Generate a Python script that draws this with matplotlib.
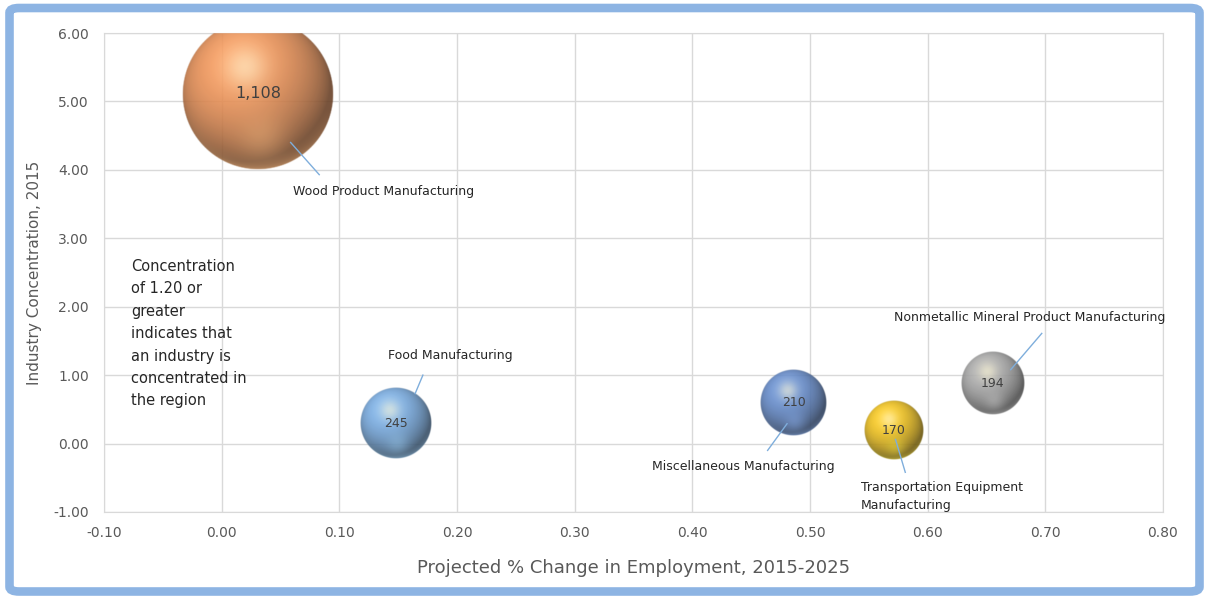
import numpy as np
import matplotlib
matplotlib.use("Agg")
import matplotlib.pyplot as plt
from matplotlib.patches import FancyBboxPatch

# industry bubbles
industries = ["Wood Product Manufacturing", "Food Manufacturing",
              "Miscellaneous Manufacturing", "Transportation Equipment\nManufacturing",
              "Nonmetallic Mineral Product Manufacturing"]
growth = [0.031, 0.148, 0.486, 0.571, 0.655]
concentration = [5.11, 0.30, 0.60, 0.19, 0.88]
employment = [1108, 245, 210, 170, 194]
value_labels = ["1,108", "245", "210", "170", "194"]

x_ticks = [-0.10, 0.00, 0.10, 0.20, 0.30, 0.40, 0.50, 0.60, 0.70, 0.80]
y_ticks = [-1.0, 0.0, 1.0, 2.0, 3.0, 4.0, 5.0, 6.0]

colors = [(0.92, 0.57, 0.34), (0.47, 0.67, 0.88), (0.40, 0.55, 0.80),
          (0.94, 0.76, 0.12), (0.66, 0.66, 0.66)]
# label text anchor (left, center) and leader line ends
label_pos = [(0.061, 3.68), (0.141, 1.28), (0.366, -0.34), (0.543, -0.77), (0.571, 1.84)]
leaders = [((0.0586, 4.40), (0.0829, 3.93)),
           ((0.1644, 0.73), (0.171, 1.00)),
           ((0.4805, 0.29), (0.464, -0.10)),
           ((0.5727, 0.06), (0.581, -0.42)),
           ((0.6706, 1.08), (0.697, 1.61))]

GRAY = "#595959"
plt.rcParams["font.family"] = ["DejaVu Sans"]


def sphere(color, r_px, n=220):
    t = np.linspace(-1, 1, n)
    u, v = np.meshgrid(t, -t)
    d2 = u ** 2 + v ** 2
    d = np.sqrt(d2)
    z = np.sqrt(np.clip(1 - d2, 0, 1))
    L = np.array([-0.3, 0.45, 0.84])
    L = L / np.linalg.norm(L)
    diff = np.clip(u * L[0] + v * L[1] + z * L[2], 0, 1)
    c = np.array(color)
    rgb = c[None, None, :] * (0.45 + 0.62 * diff[..., None])
    # bottom reflection and rim light
    refl = 0.30 * np.exp(-((u - 0.05) ** 2 + (v + 0.58) ** 2) / (2 * 0.22 ** 2))
    rim = 0.55 * np.clip(d2, 0, 1) ** 6 * np.clip(-v - 0.2, 0, 1)
    light = np.clip(c * 1.15 + 0.08, 0, 1)
    w = np.clip(refl + rim, 0, 1)[..., None]
    rgb = rgb * (1 - w) + light[None, None, :] * w
    # soft specular highlight
    spec = 0.55 * np.exp(-((u + 0.17) ** 2 + (v - 0.36) ** 2) / (2 * 0.2 ** 2))
    hl = np.array([1.0, 0.97, 0.82])
    rgb = rgb * (1 - spec[..., None]) + hl[None, None, :] * spec[..., None]
    alpha = np.clip((1 - d) * r_px, 0, 1) * 0.9
    return np.dstack([np.clip(rgb, 0, 1), alpha])


fig = plt.figure(figsize=(12.07, 5.97), dpi=100)
ax = fig.add_axes([0.0862, 0.1424, 0.8773, 0.8023])
ax.set_xlim(-0.10, 0.80)
ax.set_ylim(-1.0, 6.0)
ax.set_xticks(x_ticks)
ax.set_yticks(y_ticks)
ax.set_xticklabels([f"{t:.2f}" for t in x_ticks])
ax.set_yticklabels([f"{t:.2f}" for t in y_ticks])
ax.grid(True, color="#D9D9D9", linewidth=1.0)
ax.set_axisbelow(True)
for s in ax.spines.values():
    s.set_color("#D9D9D9")
ax.tick_params(length=0, colors=GRAY, labelsize=10)
ax.tick_params(axis="x", pad=10)
ax.tick_params(axis="y", pad=11)
ax.set_xlabel("Projected % Change in Employment, 2015-2025", fontsize=13, color=GRAY, labelpad=14)
ax.set_ylabel("Industry Concentration, 2015", fontsize=11, color=GRAY, labelpad=8)

# bubble area proportional to employment
fig.canvas.draw()
p0 = ax.transData.transform((0, 0))
p1 = ax.transData.transform((1, 1))
sx, sy = p1[0] - p0[0], p1[1] - p0[1]
ylo, yhi = ax.get_ylim()
k = 2.28
for x, y, e, c, lab in zip(growth, concentration, employment, colors, value_labels):
    r = k * np.sqrt(e)
    rx, ry = r / sx, r / sy
    img = sphere(c, r)
    # hide the part of the sphere that falls outside the plot area
    rows = np.linspace(y + ry, y - ry, img.shape[0])
    img[(rows > yhi) | (rows < ylo), :, 3] = 0
    ax.imshow(img, extent=[x - rx, x + rx, y - ry, y + ry], aspect="auto",
              interpolation="bilinear", zorder=3)
    ax.text(x, y, lab, ha="center", va="center", fontsize=11.5 if e > 1000 else 9,
            color="#404040", zorder=5)
ax.set_xlim(-0.10, 0.80)
ax.set_ylim(ylo, yhi)

for name, (lx, ly), (a, b) in zip(industries, label_pos, leaders):
    ax.plot([a[0], b[0]], [a[1], b[1]], color="#7FAEDC", linewidth=1.0, zorder=4)
    ax.text(lx, ly, name, ha="left", va="center", fontsize=9, color="#262626",
            linespacing=1.5, zorder=5)

ax.text(-0.077, 2.70, "Concentration\nof 1.20 or\ngreater\nindicates that\nan industry is\nconcentrated in\nthe region",
        ha="left", va="top", fontsize=10.5, color="#262626", linespacing=1.62, zorder=5)

# outer frame
fig.patches.append(FancyBboxPatch((9.5 / 1207, 5.5 / 597), 1190 / 1207, 583.5 / 597,
                                  boxstyle="round,pad=0,rounding_size=0.008",
                                  transform=fig.transFigure, fill=False,
                                  edgecolor="#8DB4E3", linewidth=6.2, zorder=1))

fig.savefig("out.png", dpi=100)
